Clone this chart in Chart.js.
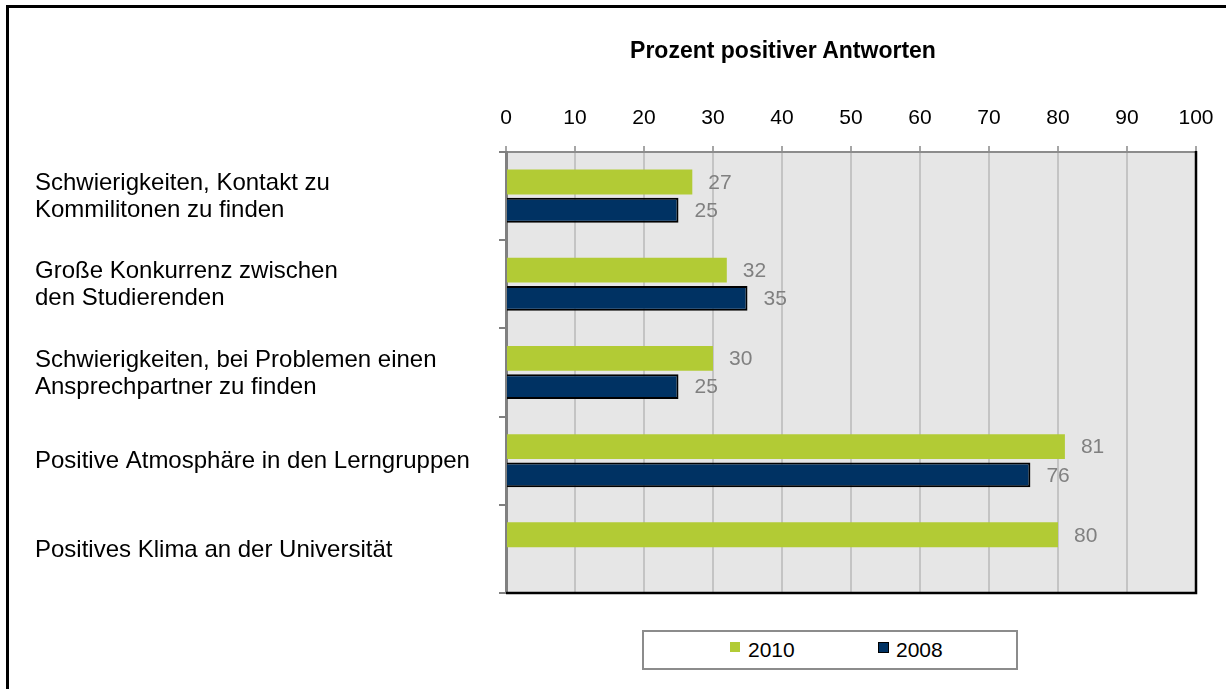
<!DOCTYPE html>
<html lang="de">
<head>
<meta charset="UTF-8">
<title>Prozent positiver Antworten</title>
<script src="https://cdn.jsdelivr.net/npm/chart.js@4.4.1/dist/chart.umd.min.js"></script>
<style>
  html, body { margin: 0; padding: 0; background: #fff; }
  body { width: 1226px; height: 689px; position: relative; overflow: hidden; font-family: "Liberation Sans", Arial, sans-serif; }
  .frame { position: absolute; left: 6px; top: 5px; width: 1300px; height: 800px; border-left: 3px solid #000; border-top: 3px solid #000; }
  #chart { position: absolute; left: 0; top: 0; }
  .title { position: absolute; left: 583px; width: 400px; top: 37px; text-align: center; font-weight: bold; font-size: 23px; color: #000; }
  .legend { position: absolute; left: 642px; top: 630px; width: 372px; height: 36px; border: 2px solid #8c8c8c; background: #fff; }
  .legend .item { position: absolute; top: 5px; font-size: 21px; line-height: 26px; color: #000; }
  .legend .box { position: absolute; top: 10px; width: 10px; height: 10px; }
</style>
</head>
<body>
<div class="frame"></div>
<canvas id="chart" width="1226" height="689"></canvas>
<div class="title">Prozent positiver Antworten</div>
<div class="legend">
  <span class="box" style="left:86px; background:#b2cb35;"></span>
  <span class="item" style="left:104px;">2010</span>
  <span class="box" style="left:234px; background:#003263; border:1px solid #000; width:9px; height:9px;"></span>
  <span class="item" style="left:252px;">2008</span>
</div>

<script>
// categories and values
const categories = [
  ["Schwierigkeiten, Kontakt zu", "Kommilitonen zu finden"],
  ["Große Konkurrenz zwischen", "den Studierenden"],
  ["Schwierigkeiten, bei Problemen einen", "Ansprechpartner zu finden"],
  "Positive Atmosphäre in den Lerngruppen",
  "Positives Klima an der Universität"
];
const values2010 = [27, 32, 30, 81, 80];
const values2008 = [25, 35, 25, 76, null];
const seriesNames = ["2010", "2008"];
const xTicks = [0, 10, 20, 30, 40, 50, 60, 70, 80, 90, 100];

const FONT = '"Liberation Sans", Arial, sans-serif';

// grey plot background + black right/bottom edge
const plotArea = {
  id: 'plotArea',
  beforeDraw(chart) {
    const { ctx, chartArea: a } = chart;
    ctx.save();
    ctx.fillStyle = '#e6e6e6';
    ctx.fillRect(a.left, a.top, a.right - a.left, a.bottom - a.top);
    ctx.restore();
  },
  afterDraw(chart) {
    const { ctx, chartArea: a } = chart;
    ctx.save();
    ctx.strokeStyle = '#000';
    ctx.lineWidth = 2.5;
    ctx.beginPath();
    ctx.moveTo(a.right, a.top - 1);
    ctx.lineTo(a.right, a.bottom);
    ctx.lineTo(a.left, a.bottom);
    ctx.stroke();
    ctx.restore();
  }
};

// numbers next to the bars
const valueLabels = {
  id: 'valueLabels',
  afterDatasetsDraw(chart) {
    const ctx = chart.ctx;
    ctx.save();
    ctx.font = '21px ' + FONT;
    ctx.fillStyle = '#808080';
    ctx.textAlign = 'left';
    ctx.textBaseline = 'middle';
    chart.data.datasets.forEach((ds, i) => {
      chart.getDatasetMeta(i).data.forEach((bar, j) => {
        const v = ds.data[j];
        if (v === null || v === undefined) return;
        ctx.fillText(String(v), bar.x + 16, bar.y + 1);
      });
    });
    ctx.restore();
  }
};

new Chart(document.getElementById('chart'), {
  type: 'bar',
  data: {
    labels: categories,
    datasets: [
      {
        label: seriesNames[0],
        data: values2010,
        backgroundColor: '#b2cb35',
        borderWidth: 0,
        categoryPercentage: 0.64,
        barPercentage: 0.88
      },
      {
        label: seriesNames[1],
        data: values2008,
        backgroundColor: '#003263',
        borderColor: '#000',
        borderWidth: 2,
        borderSkipped: 'start',
        categoryPercentage: 0.64,
        barPercentage: 0.88
      }
    ]
  },
  options: {
    indexAxis: 'y',
    responsive: false,
    animation: false,
    layout: { padding: { left: 35, top: 90, right: 30, bottom: 96 } },
    plugins: {
      legend: { display: false },
      tooltip: { enabled: false }
    },
    scales: {
      x: {
        position: 'top',
        min: 0,
        max: 100,
        afterBuildTicks(scale) { scale.ticks = xTicks.map(v => ({ value: v })); },
        afterFit(scale) {
          scale.height = 62;
          // the layout padding already leaves room for "100"
          scale.paddingLeft = 0;
          scale.paddingRight = 0;
        },
        ticks: {
          color: '#000',
          font: { family: FONT, size: 21 },
          padding: 15,
          maxRotation: 0
        },
        grid: {
          color: '#c4c4c4',
          lineWidth: 2,
          tickLength: 6,
          tickColor: '#a6a6a6'
        },
        border: { color: '#8c8c8c', width: 2 }
      },
      y: {
        afterFit(scale) { scale.width = 471; },
        ticks: {
          color: '#000',
          crossAlign: 'far',
          autoSkip: false,
          padding: 10,
          labelOffset: 1,
          font: { family: FONT, size: 24, lineHeight: 1.12 }
        },
        grid: {
          offset: true,
          drawOnChartArea: false,
          tickLength: 7,
          tickColor: '#808080',
          lineWidth: 2
        },
        border: { color: '#808080', width: 3 }
      }
    }
  },
  plugins: [plotArea, valueLabels]
});
</script>
</body>
</html>
